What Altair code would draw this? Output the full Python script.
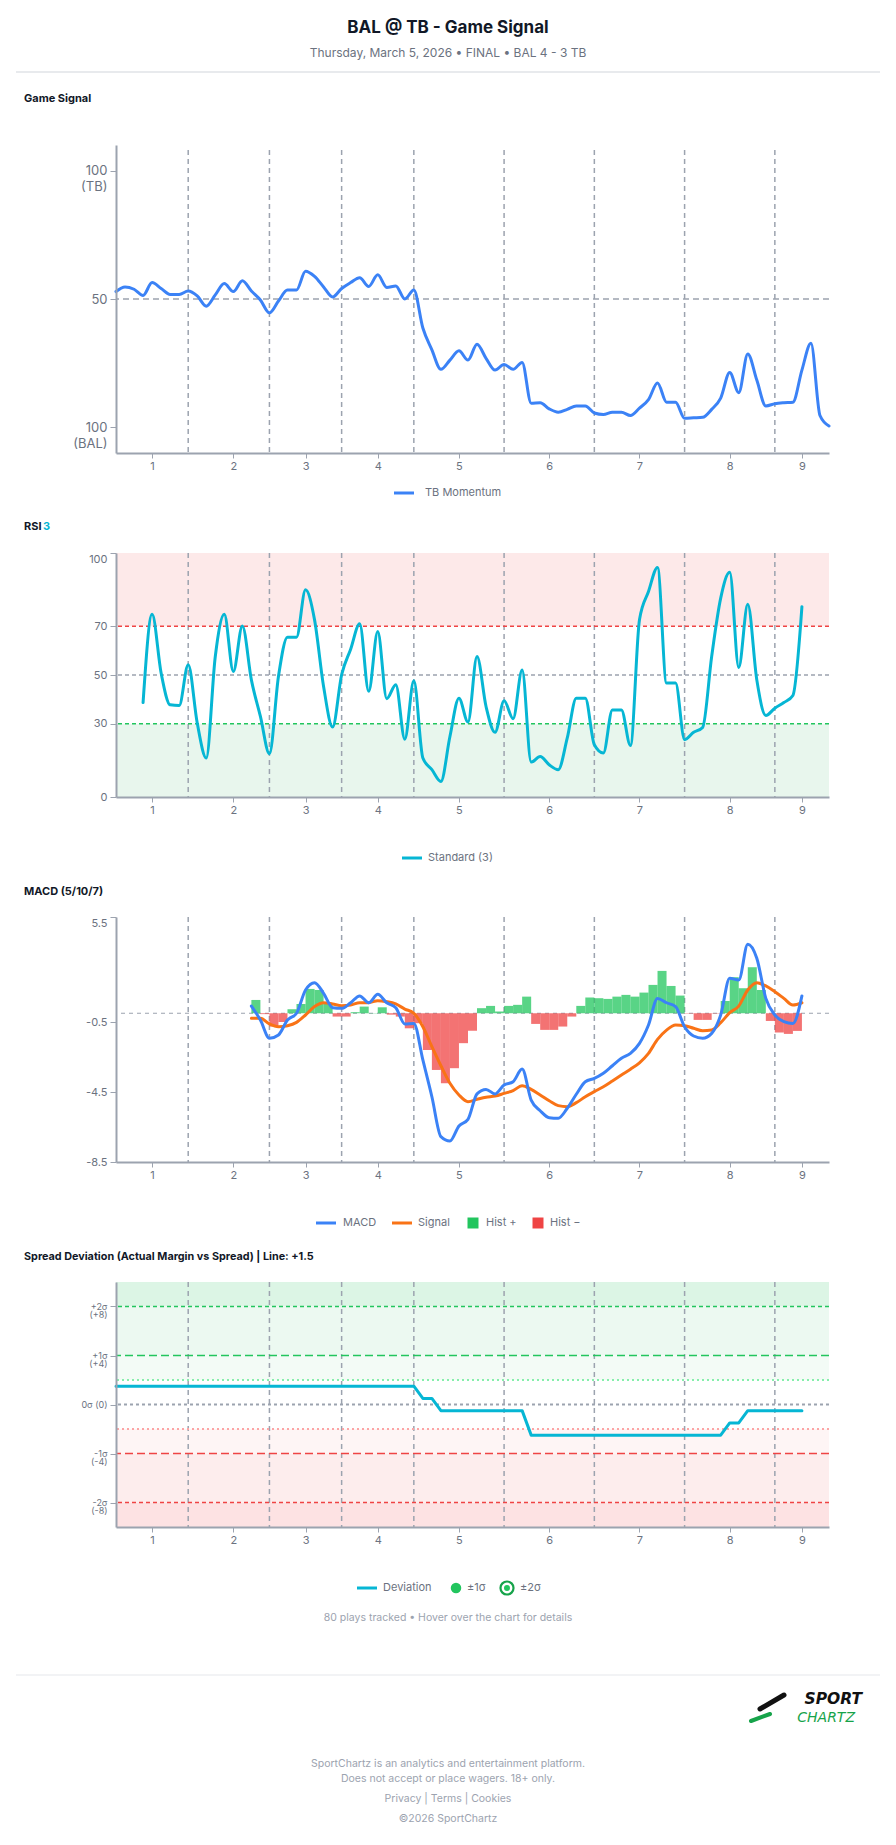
import json
import altair as alt
import pandas as pd

FONT = "Inter"
W = 713
AX = "#9ca3af"
LBL = "#6b7280"
DARK = "#111827"
BLUE = "#3b82f6"
CYAN = "#06b6d4"
ORANGE = "#f97316"
GREEN = "#22c55e"
RED = "#ef4444"

# ---------------- data ----------------
inning_labels = ["1", "2", "3", "4", "5", "6", "7", "8", "9"]
inning_ticks = [4, 13, 21, 29, 38, 48, 58, 68, 76]
inning_breaks = [8, 17, 25, 33, 43, 53, 63, 73]

gs_values = [52.9, 54.7, 53.8, 51.4, 56.4, 54.1, 51.8, 51.8, 53.1, 51.2,
             47.2, 51.6, 56.0, 52.9, 57.1, 53.1, 49.6, 44.6, 49.2, 53.5,
             53.5, 60.8, 58.8, 54.7, 50.8, 54.1, 56.4, 58.3, 54.9, 59.4,
             54.5, 55.1, 50.0, 53.5, 38.7, 30.2, 22.6, 26.2, 29.8, 26.2,
             32.4, 26.9, 22.3, 24.5, 22.6, 25.3, 9.4, 9.6, 7.2, 5.9,
             7.0, 8.3, 8.3, 5.6, 5.0, 5.9, 5.9, 4.6, 7.5, 10.8,
             17.3, 9.8, 9.8, 3.5, 3.7, 3.9, 7.0, 11.4, 21.4, 13.5,
             28.6, 18.4, 8.3, 9.2, 9.6, 9.8, 22.3, 32.8, 4.6, 0.5]

rsi_first = 3
rsi_values = [38.7, 74.9, 50.8, 37.8, 37.5, 54.2, 30.3, 16.0, 57.6, 74.9,
              51.4, 70.1, 48.0, 33.0, 17.7, 49.4, 65.5, 65.5, 84.9, 72.6,
              45.3, 28.7, 50.1, 60.6, 71.0, 43.3, 67.8, 40.3, 46.0, 23.7,
              47.6, 16.0, 11.2, 6.4, 24.8, 40.5, 30.7, 57.6, 37.1, 26.5,
              39.4, 32.1, 52.1, 14.3, 16.6, 13.2, 11.2, 24.2, 40.5, 40.5,
              21.4, 18.0, 35.7, 35.7, 21.1, 72.6, 84.2, 94.1, 46.7, 46.7,
              23.5, 26.5, 28.5, 57.6, 81.5, 92.1, 53.1, 79.0, 48.0, 33.4,
              36.4, 38.7, 41.6, 78.0]

macd_first = 15
macd_values = [0.41, -0.39, -1.43, -1.24, -0.39, 0.0, 1.33, 1.75, 1.14, 0.32,
               0.28, 0.60, 0.99, 0.60, 1.08, 0.60, 0.32, -0.61, -0.58, -2.67,
               -4.77, -7.05, -7.30, -6.44, -6.06, -4.61, -4.35, -4.61, -4.10, -3.91,
               -3.19, -4.96, -5.57, -5.97, -6.00, -5.43, -4.63, -3.91, -3.72, -3.43,
               -3.00, -2.57, -2.29, -1.72, -0.67, 0.85, 0.60, 0.38, -0.77, -1.30,
               -1.43, -1.15, -0.10, 2.00, 1.90, 3.94, 3.14, 0.85, -0.10, -0.48,
               -0.58, 0.99]
signal_values = [-0.29, -0.29, -0.61, -0.77, -0.71, -0.52, -0.10, 0.38, 0.60, 0.53,
                 0.43, 0.47, 0.60, 0.60, 0.72, 0.66, 0.53, 0.24, 0.0, -0.77,
                 -1.91, -3.00, -4.00, -4.67, -5.05, -4.92, -4.80, -4.73, -4.58, -4.42,
                 -4.14, -4.35, -4.67, -5.00, -5.28, -5.34, -5.11, -4.77, -4.48, -4.20,
                 -3.87, -3.53, -3.20, -2.83, -2.29, -1.49, -0.96, -0.67, -0.71, -0.86,
                 -1.00, -0.96, -0.54, 0.03, 0.41, 1.33, 1.75, 1.56, 1.23, 0.85,
                 0.47, 0.60]
hist_values = [0.76, -0.05, -0.76, -0.50, 0.23, 0.53, 1.39, 1.33, 0.57, -0.19,
               -0.19, 0.06, 0.38, 0.02, 0.34, -0.08, -0.19, -0.86, -0.57, -2.10,
               -3.24, -4.00, -3.14, -1.71, -1.00, 0.29, 0.42, 0.10, 0.42, 0.48,
               0.95, -0.61, -0.95, -0.95, -0.76, -0.19, 0.42, 0.90, 0.86, 0.82,
               0.95, 1.05, 0.95, 1.18, 1.62, 2.42, 1.56, 1.01, -0.02, -0.38,
               -0.38, -0.02, 0.70, 2.06, 1.43, 2.63, 1.33, -0.44, -1.10, -1.18,
               -1.01]

spread_values = [1.5, 1.5, 1.5, 1.5, 1.5, 1.5, 1.5, 1.5, 1.5, 1.5,
                 1.5, 1.5, 1.5, 1.5, 1.5, 1.5, 1.5, 1.5, 1.5, 1.5,
                 1.5, 1.5, 1.5, 1.5, 1.5, 1.5, 1.5, 1.5, 1.5, 1.5,
                 1.5, 1.5, 1.5, 1.5, 0.5, 0.5, -0.5, -0.5, -0.5, -0.5,
                 -0.5, -0.5, -0.5, -0.5, -0.5, -0.5, -2.5, -2.5, -2.5, -2.5,
                 -2.5, -2.5, -2.5, -2.5, -2.5, -2.5, -2.5, -2.5, -2.5, -2.5,
                 -2.5, -2.5, -2.5, -2.5, -2.5, -2.5, -2.5, -2.5, -1.5, -1.5,
                 -0.5, -0.5, -0.5, -0.5, -0.5, -0.5, -0.5]

rsi_levels = [70, 50, 30]
rsi_level_colors = [RED, AX, GREEN]
rsi_zones_lo = [70, 0]
rsi_zones_hi = [100, 30]
rsi_zone_colors = ["#fde9e9", "#e8f6ed"]

sd_bands_lo = [8, 4, 2, -4, -8, -10]
sd_bands_hi = [10, 8, 4, -2, -4, -8]
sd_band_colors = ["#dcf5e5", "#ecf9f1", "#f3fbf6", "#fef5f5", "#fdeded", "#fde2e3"]

# ---------------- frames ----------------
gs_df = pd.DataFrame({"play": list(range(len(gs_values))), "v": gs_values})
rsi_df = pd.DataFrame({"play": list(range(rsi_first, rsi_first + len(rsi_values))), "v": rsi_values})
macd_plays = list(range(macd_first, macd_first + len(macd_values)))
macd_df = pd.DataFrame({"play": macd_plays, "macd": macd_values, "sig": signal_values})
hist_df = pd.DataFrame({"i": list(range(macd_first, macd_first + len(hist_values))), "h": hist_values})
hist_df["i1"] = hist_df["i"] + 1
hist_df["c"] = [GREEN if h >= 0 else RED for h in hist_values]
sd_df = pd.DataFrame({"play": list(range(len(spread_values))), "v": spread_values})
br_df = pd.DataFrame({"b": inning_breaks})
one = pd.DataFrame({"k": [0]})

# ---------------- helpers ----------------
label_expr = f"{json.dumps(inning_labels)}[indexof({json.dumps(inning_ticks)}, datum.value)]"
XSCALE = alt.Scale(domain=[0, 79], nice=False, zero=False)
XAXIS = alt.Axis(values=inning_ticks, labelExpr=label_expr, title=None, grid=False,
                 domainColor=AX, domainWidth=2, tickColor=AX, tickSize=5, zindex=1,
                 labelColor=LBL, labelFontSize=11, labelFont=FONT, labelPadding=2)


def X(field):
    return alt.X(f"{field}:Q", scale=XSCALE, axis=XAXIS)


def yaxis(values, expr, size=11, lh=None, top=None):
    kw = dict(values=values, labelExpr=expr, title=None, grid=False, domainColor=AX,
              domainWidth=2, tickColor=AX, tickSize=6, labelColor=LBL, labelFontSize=size,
              labelFont=FONT, labelPadding=3, zindex=1)
    if lh is not None:
        kw["labelLineHeight"] = lh
    if top is not None:
        kw["labelBaseline"] = alt.condition(f"datum.value == {top}", alt.value("top"), alt.value("middle"))
    return alt.Axis(**kw)


def txt(s, x, y, size=11, color=LBL, weight="normal", align="left", style="normal", font=FONT):
    return alt.Chart(one).mark_text(text=s, align=align, baseline="middle", font=font,
                                    fontSize=size, color=color, fontWeight=weight,
                                    fontStyle=style).encode(x=alt.value(x), y=alt.value(y))


def hline(x1, x2, y, color="#000000", width=1, opacity=1.0):
    return alt.Chart(one).mark_rule(color=color, strokeWidth=width, opacity=opacity).encode(
        x=alt.value(x1), x2=alt.value(x2), y=alt.value(y))


def bounds(top, bottom):
    return [hline(-116, 780, top, width=0, opacity=0), hline(-116, 780, bottom, width=0, opacity=0)]


def leg_line(x1, y, color):
    return alt.Chart(one).mark_rule(color=color, strokeWidth=3).encode(
        x=alt.value(x1), x2=alt.value(x1 + 20), y=alt.value(y))


def inning_rules(y, y2):
    return alt.Chart(br_df).mark_rule(color=AX, strokeDash=[5, 4], strokeWidth=1.5).encode(
        x=X("b"), y=y, y2=y2)


NOVIEW = alt.ViewBackground(stroke="transparent", strokeWidth=0)

# ---------------- Panel 1: Game Signal ----------------
H1 = 308
Y1 = alt.Scale(domain=[-10, 110], nice=False, zero=False)
Y1AX = yaxis([0, 50, 100],
             "datum.value == 100 ? ['100', '(TB)'] : datum.value == 0 ? ['100', '(BAL)'] : '50'",
             size=13, lh=16)
p1 = alt.layer(
    *bounds(-145, 365),
    txt("BAL @ TB - Game Signal", 332, -117, size=17, color=DARK, weight="bold", align="center"),
    txt("Thursday, March 5, 2026 \u2022 FINAL \u2022 BAL 4 - 3 TB", 332, -92, size=12, color=LBL, align="center"),
    hline(-100, 764, -73, color="#d1d5db", width=1),
    txt("Game Signal", -92, -46, size=11, color=DARK, weight="bold"),
    inning_rules(alt.value(5), alt.value(H1)),
    alt.Chart(pd.DataFrame({"lvl": [50]})).mark_rule(color=AX, strokeDash=[6, 4], strokeWidth=1.5).encode(
        y=alt.Y("lvl:Q", scale=Y1, axis=Y1AX)),
    alt.Chart(gs_df).mark_line(color=BLUE, strokeWidth=3, interpolate="monotone",
                               strokeCap="round", strokeJoin="round").encode(
        x=X("play"), y=alt.Y("v:Q", scale=Y1, axis=Y1AX)),
    leg_line(278, 348, BLUE),
    txt("TB Momentum", 309, 348, size=11),
).properties(width=W, height=H1, view=NOVIEW)

# ---------------- Panel 2: RSI ----------------
H2 = 244
Y2 = alt.Scale(domain=[0, 100], nice=False, zero=False)
Y2AX = yaxis([0, 30, 50, 70, 100], "datum.label", size=11, top=100)
rsi_zone_df = pd.DataFrame({"lo": rsi_zones_lo, "hi": rsi_zones_hi, "c": rsi_zone_colors})
rsi_lvl_df = pd.DataFrame({"lvl": rsi_levels, "c": rsi_level_colors})
p2 = alt.layer(
    *bounds(-43, 322),
    txt("RSI", -92, -26, size=11, color=DARK, weight="bold"),
    txt("3", -73, -26, size=11, color=CYAN, weight="bold"),
    alt.Chart(rsi_zone_df).mark_rect().encode(
        x=alt.value(0), x2=alt.value(W),
        y=alt.Y("hi:Q", scale=Y2, axis=Y2AX), y2="lo:Q",
        fill=alt.Fill("c:N", scale=None)),
    inning_rules(alt.value(0), alt.value(H2)),
    alt.Chart(rsi_lvl_df).mark_rule(strokeDash=[4, 3], strokeWidth=1.5).encode(
        y=alt.Y("lvl:Q", scale=Y2, axis=Y2AX), color=alt.Color("c:N", scale=None)),
    alt.Chart(rsi_df).mark_line(color=CYAN, strokeWidth=3, interpolate="monotone",
                                strokeCap="round", strokeJoin="round").encode(
        x=X("play"), y=alt.Y("v:Q", scale=Y2, axis=Y2AX)),
    leg_line(286, 305, CYAN),
    txt("Standard (3)", 312, 305, size=11),
).properties(width=W, height=H2, view=NOVIEW)

# ---------------- Panel 3: MACD ----------------
H3 = 245
Y3 = alt.Scale(domain=[-8.5, 5.5], nice=False, zero=False)
Y3AX = yaxis([5.5, -0.5, -4.5, -8.5],
             "(datum.value < 0 ? '-' : '') + format(abs(datum.value), '.1f')", size=11, top=5.5)
p3 = alt.layer(
    *bounds(-42, 323),
    txt("MACD (5/10/7)", -92, -25, size=11, color=DARK, weight="bold"),
    inning_rules(alt.value(0), alt.value(H3)),
    alt.Chart(pd.DataFrame({"lvl": [0]})).mark_rule(color=AX, strokeDash=[4, 4], strokeWidth=1.2).encode(
        y=alt.Y("lvl:Q", scale=Y3, axis=Y3AX)),
    alt.Chart(hist_df).mark_rect(opacity=0.75).encode(
        x=X("i"), x2="i1:Q", y=alt.Y("h:Q", scale=Y3, axis=Y3AX), y2=alt.datum(0),
        fill=alt.Fill("c:N", scale=None)),
    alt.Chart(macd_df).mark_line(color=ORANGE, strokeWidth=3, interpolate="monotone",
                                 strokeCap="round", strokeJoin="round").encode(
        x=X("play"), y=alt.Y("sig:Q", scale=Y3, axis=Y3AX)),
    alt.Chart(macd_df).mark_line(color=BLUE, strokeWidth=3, interpolate="monotone",
                                 strokeCap="round", strokeJoin="round").encode(
        x=X("play"), y=alt.Y("macd:Q", scale=Y3, axis=Y3AX)),
    leg_line(200, 306, BLUE),
    txt("MACD", 227, 306, size=11),
    leg_line(276, 306, ORANGE),
    txt("Signal", 302, 306, size=11),
    alt.Chart(one).mark_point(shape="square", filled=True, size=121, color=GREEN, opacity=1).encode(
        x=alt.value(357), y=alt.value(306)),
    txt("Hist +", 370, 306, size=11),
    alt.Chart(one).mark_point(shape="square", filled=True, size=121, color=RED, opacity=1).encode(
        x=alt.value(422), y=alt.value(306)),
    txt("Hist \u2212", 434, 306, size=11),
).properties(width=W, height=H3, view=NOVIEW)

# ---------------- Panel 4: Spread Deviation ----------------
H4 = 245
Y4 = alt.Scale(domain=[-10, 10], nice=False, zero=False)
Y4AX = yaxis([8, 4, 0, -4, -8],
             "datum.value == 8 ? ['+2\u03c3', '(+8)'] : datum.value == 4 ? ['+1\u03c3', '(+4)'] : "
             "datum.value == 0 ? '0\u03c3 (0)' : datum.value == -4 ? ['-1\u03c3', '(-4)'] : ['-2\u03c3', '(-8)']",
             size=9, lh=8)
band_df = pd.DataFrame({"lo": sd_bands_lo, "hi": sd_bands_hi, "c": sd_band_colors})


def level(v, color, dash, width=1.5):
    return alt.Chart(pd.DataFrame({"lvl": [v]})).mark_rule(color=color, strokeDash=dash, strokeWidth=width).encode(
        y=alt.Y("lvl:Q", scale=Y4, axis=Y4AX))


p4 = alt.layer(
    *bounds(-42, 563),
    txt("Spread Deviation (Actual Margin vs Spread) | Line: +1.5", -92, -25, size=10.8, color=DARK, weight="bold"),
    alt.Chart(band_df).mark_rect().encode(
        x=alt.value(0), x2=alt.value(W),
        y=alt.Y("hi:Q", scale=Y4, axis=Y4AX), y2="lo:Q",
        fill=alt.Fill("c:N", scale=None)),
    inning_rules(alt.value(0), alt.value(H4)),
    level(8, GREEN, [4, 3]),
    level(4, GREEN, [8, 4]),
    level(2, "#86efac", [2, 3], 2),
    level(0, AX, [3, 3], 2.2),
    level(-2, "#fca5a5", [2, 3], 2),
    level(-4, RED, [8, 4]),
    level(-8, RED, [4, 3]),
    alt.Chart(sd_df).mark_line(color=CYAN, strokeWidth=3, interpolate="linear",
                               strokeCap="round", strokeJoin="round").encode(
        x=X("play"), y=alt.Y("v:Q", scale=Y4, axis=Y4AX)),
    leg_line(241, 306, CYAN),
    txt("Deviation", 267, 306, size=11),
    alt.Chart(one).mark_point(shape="circle", filled=True, size=110, color=GREEN, opacity=1).encode(
        x=alt.value(340), y=alt.value(306)),
    txt("\u00b11\u03c3", 351, 306, size=11),
    alt.Chart(one).mark_point(shape="circle", filled=False, size=170, strokeWidth=2.2, color="#16a34a", opacity=1).encode(
        x=alt.value(391), y=alt.value(306)),
    alt.Chart(one).mark_point(shape="circle", filled=True, size=36, color=GREEN, opacity=1).encode(
        x=alt.value(391), y=alt.value(306)),
    txt("\u00b12\u03c3", 404, 306, size=11),
    txt("80 plays tracked \u2022 Hover over the chart for details", 332, 336, size=10.5, color=AX, align="center"),
    # footer
    hline(-100, 764, 393, color="#e5e7eb", width=1),
    alt.Chart(one).mark_rule(color="#111111", strokeWidth=5, strokeCap="round").encode(
        x=alt.value(644), y=alt.value(427), x2=alt.value(668), y2=alt.value(413)),
    alt.Chart(one).mark_rule(color="#16a34a", strokeWidth=4, strokeCap="round").encode(
        x=alt.value(635), y=alt.value(439), x2=alt.value(654), y2=alt.value(432)),
    txt("SPORT", 746, 417, size=15.5, color="#111111", weight="bold", align="right", style="italic", font="DejaVu Sans"),
    txt("CHARTZ", 739, 436, size=14, color="#16a34a", align="right", style="italic", font="DejaVu Sans"),
    txt("SportChartz is an analytics and entertainment platform.", 332, 482, size=10.5, color=AX, align="center"),
    txt("Does not accept or place wagers. 18+ only.", 332, 497, size=10.5, color=AX, align="center"),
    txt("Privacy  |  Terms  |  Cookies", 332, 517, size=10.5, color=AX, align="center"),
    txt("\u00a92026 SportChartz", 332, 537, size=10.5, color=AX, align="center"),
).properties(width=W, height=H4, view=NOVIEW)

chart = alt.vconcat(p1, p2, p3, p4, spacing=0).properties(padding=0).configure_view(
    stroke="transparent", strokeWidth=0).configure(font=FONT, background="white")

chart.save("out.html", embed_options={"renderer": "svg", "actions": False})
